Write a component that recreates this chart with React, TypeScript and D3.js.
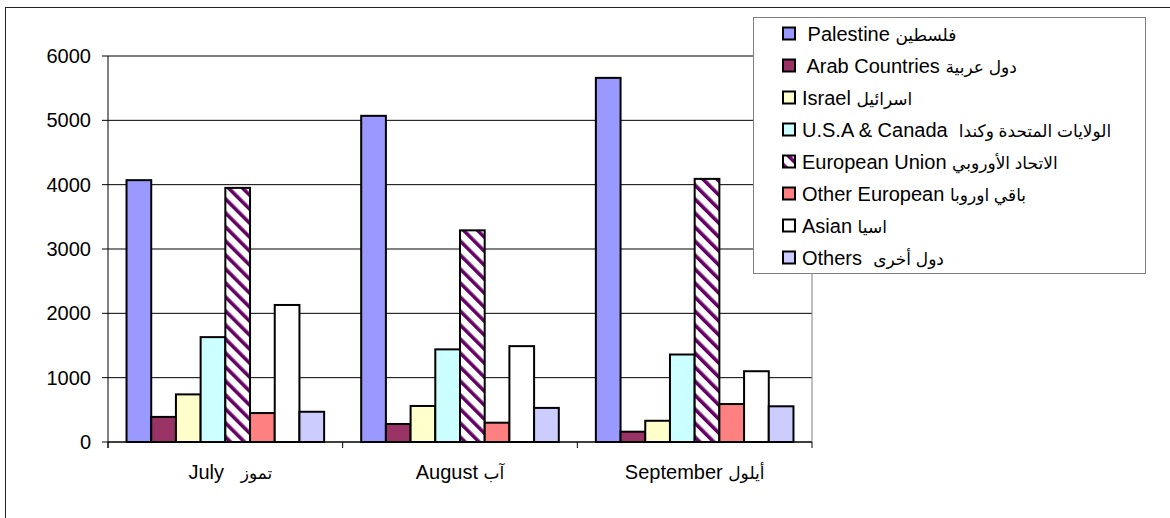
import React from 'react';
import * as d3 from 'd3';

const monthsEn = ['July', 'August', 'September'];
const monthsAr = ['تموز', 'آب', 'أيلول'];

const seriesEn = [
  ' Palestine',
  ' Arab Countries',
  'Israel',
  'U.S.A & Canada ',
  'European Union',
  'Other European',
  'Asian',
  'Others ',
];
const seriesAr = [
  'فلسطين',
  'دول عربية',
  'اسرائيل',
  'الولايات المتحدة وكندا',
  'الاتحاد الأوروبي',
  'باقي اوروبا',
  'اسيا',
  'دول أخرى',
];

const palestine = [4070, 5070, 5660];
const arabCountries = [390, 280, 160];
const israel = [740, 560, 330];
const usaCanada = [1630, 1440, 1360];
const europeanUnion = [3950, 3290, 4090];
const otherEuropean = [450, 300, 590];
const asian = [2130, 1490, 1100];
const others = [470, 530, 555];

const yTicks = [0, 1000, 2000, 3000, 4000, 5000, 6000];

const fills = ['#9999FF', '#993366', '#FFFFCC', '#CCFFFF', 'url(#euStripes)', '#FF8080', '#FFFFFF', '#CCCCFF'];

const FONT = '"Liberation Sans", Arial, "DejaVu Sans", sans-serif';
const AR_SIZE = 17;

const App: React.FC = () => {
  const width = 1170;
  const height = 518;
  const plot = { left: 108, right: 812, top: 56, bottom: 442 };

  const series = [palestine, arabCountries, israel, usaCanada, europeanUnion, otherEuropean, asian, others];

  const x0 = d3.scaleBand<string>()
    .domain(monthsEn)
    .range([plot.left, plot.right]);

  // excel gap width 150%
  const inner = x0.bandwidth();
  const barW = inner / (series.length + 1.5);
  const x1 = d3.scaleBand<number>()
    .domain(d3.range(series.length))
    .range([barW * 0.75, inner - barW * 0.75]);

  const y = d3.scaleLinear().domain([0, 6000]).range([plot.bottom, plot.top]);

  const catTicks = [plot.left, ...monthsEn.map(m => (x0(m) as number) + inner)];

  return (
    <div style={{ position: 'absolute', left: 0, top: 0 }}>
      <svg width={width} height={height} style={{ display: 'block', fontFamily: FONT }}>
        <defs>
          <pattern id="euStripes" patternUnits="userSpaceOnUse" width={9.9} height={9.9} patternTransform="rotate(-45)">
            <rect width={9.9} height={9.9} fill="#ffffff" />
            <rect x={0} width={3.6} height={9.9} fill="#660066" />
          </pattern>
        </defs>
        <rect x={0} y={0} width={width} height={height} fill="#ffffff" />
        {/* chart area border */}
        <rect x={5.5} y={7.5} width={width + 20} height={height + 20} fill="none" stroke="#222" strokeWidth={1} />

        {/* gridlines */}
        {yTicks.map(t => (
          <line key={`g${t}`} x1={plot.left} x2={plot.right} y1={y(t)} y2={y(t)} stroke="#000" strokeWidth={1} />
        ))}
        <line x1={plot.right} x2={plot.right} y1={plot.top} y2={plot.bottom} stroke="#808080" strokeWidth={1} />

        {/* bars */}
        {monthsEn.map((m, mi) => (
          <g key={m} transform={`translate(${x0(m)},0)`}>
            {series.map((vals, si) => (
              <rect
                key={si}
                x={x1(si)}
                y={y(vals[mi])}
                width={x1.bandwidth()}
                height={y(0) - y(vals[mi])}
                fill={fills[si]}
                stroke="#000"
                strokeWidth={2}
              />
            ))}
          </g>
        ))}

        {/* y axis */}
        <line x1={plot.left} x2={plot.left} y1={plot.top} y2={plot.bottom + 6} stroke="#000" strokeWidth={1} />
        {yTicks.map(t => (
          <g key={`t${t}`}>
            <line x1={plot.left - 6} x2={plot.left} y1={y(t)} y2={y(t)} stroke="#000" strokeWidth={1} />
            <text x={91} y={y(t)} dy="0.35em" textAnchor="end" fontSize={20} fill="#000">{t}</text>
          </g>
        ))}

        {/* x axis */}
        <line x1={plot.left} x2={plot.right} y1={y(0)} y2={y(0)} stroke="#000" strokeWidth={1} />
        {catTicks.map((cx, i) => (
          <line key={`c${i}`} x1={cx} x2={cx} y1={y(0)} y2={y(0) + 6} stroke="#000" strokeWidth={1} />
        ))}
        {monthsEn.map((m, i) => (
          <text
            key={`l${m}`}
            x={(x0(m) as number) + inner / 2 + (i === 0 ? 5 : 0)}
            y={479}
            textAnchor="middle"
            fontSize={20}
            fill="#000"
            direction="ltr"
            style={{ whiteSpace: 'pre' }}
          >
            <tspan>{i === 0 ? `${m}   ` : `${m} `}</tspan>
            <tspan fontSize={AR_SIZE}>{monthsAr[i]}</tspan>
          </text>
        ))}

        {/* legend */}
        <rect x={753.5} y={17.5} width={392} height={256} fill="#ffffff" stroke="#808080" strokeWidth={1} />
        {seriesEn.map((name, i) => {
          const cy = 33.5 + i * 32;
          return (
            <g key={name}>
              <rect x={783} y={cy - 6} width={12} height={12} fill={fills[i]} stroke="#000" strokeWidth={2} />
              <text
                x={802}
                y={cy}
                dy="0.35em"
                fontSize={20}
                fill="#000"
                direction="ltr"
                style={{ whiteSpace: 'pre' }}
              >
                <tspan>{`${name} `}</tspan>
                <tspan fontSize={AR_SIZE}>{seriesAr[i]}</tspan>
              </text>
            </g>
          );
        })}
      </svg>
    </div>
  );
};

export default App;
